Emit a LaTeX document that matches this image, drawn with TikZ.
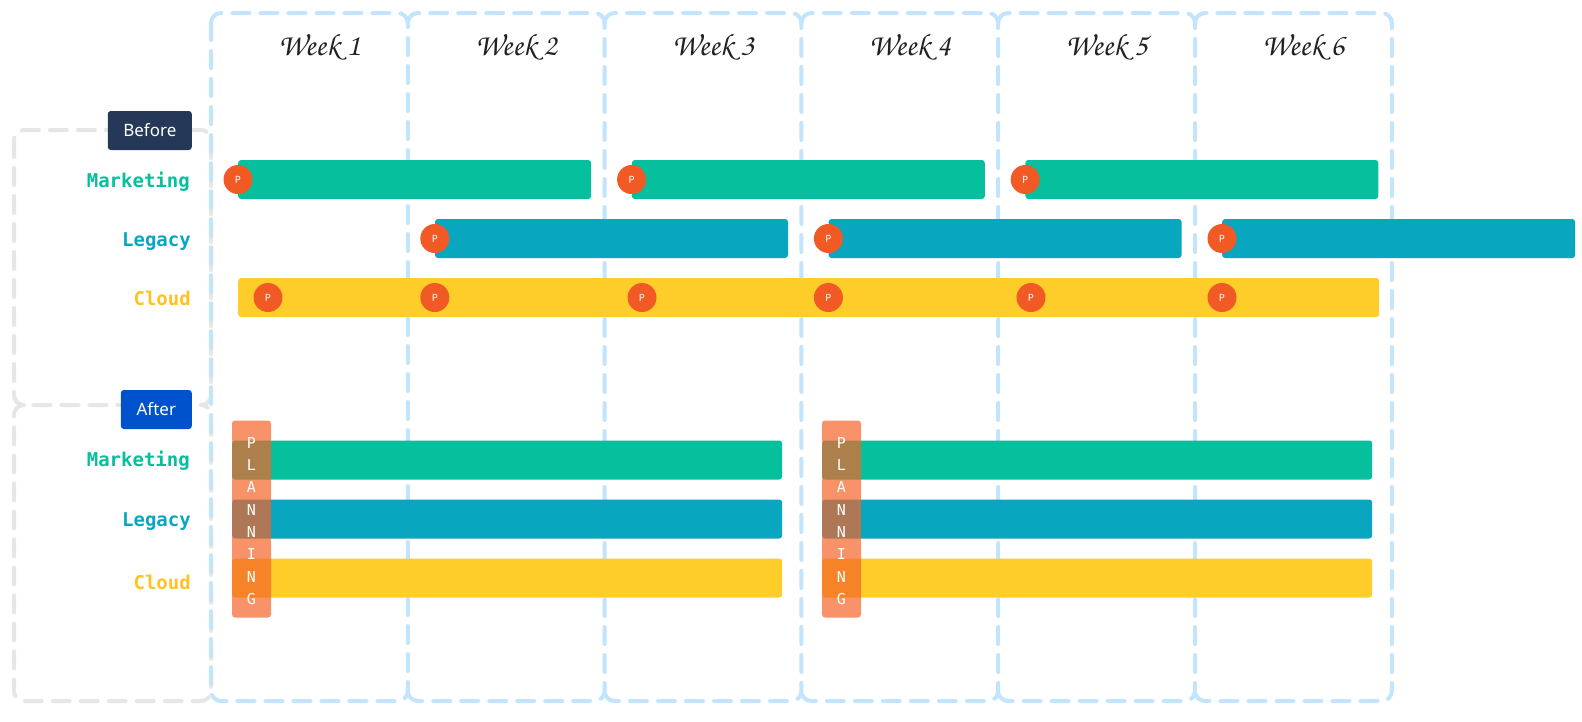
\documentclass[tikz,border=0pt]{standalone}
\usepackage[T1]{fontenc}
\usepackage{fontspec}
\setmainfont{Noto Sans}
\setmonofont{DejaVu Sans Mono}
\usepackage{color}
\usepackage{tikz}
\usetikzlibrary{positioning,calc}
\definecolor{weekblue}{HTML}{C2E4FD}
\definecolor{groupgray}{HTML}{E6E6E6}
\definecolor{navy}{HTML}{253858}
\definecolor{afterblue}{HTML}{0052CC}
\definecolor{mkt}{HTML}{06BF9C}
\definecolor{lgc}{HTML}{09A6BF}
\definecolor{cld}{HTML}{FFCD2A}
\definecolor{cldtext}{HTML}{FFC21F}
\definecolor{pinorange}{HTML}{F15A24}
\definecolor{planorange}{HTML}{F56428}
\newcommand{\handfont}{\fontencoding{T1}\fontfamily{pzc}\fontseries{mb}\fontshape{it}\selectfont}
\tikzset{
    x=1pt,y=-1pt,
    colline/.style ={draw=weekblue, line width=4pt, dash pattern=on 17pt off 11pt, line cap=round,
        rounded corners=10pt},
    groupline/.style ={draw=groupgray, line width=4pt, dash pattern=on 17pt off 11pt, line cap=round,
        rounded corners=10pt},
    tag/.style = {rectangle, rounded corners=3pt, text=white, minimum height=39pt, inner sep=0,
        anchor=east, font=\fontsize{17}{20}\selectfont},
    row/.style = {anchor=mid east, inner sep=0, font=\ttfamily\bfseries\fontsize{19}{22}\selectfont},
    weeklabel/.style = {font=\handfont\fontsize{31}{34}\selectfont, text=black!87},
    bar/.style = {rectangle, rounded corners=3pt, minimum height=39pt, inner sep=0, anchor=west},
    pin/.style = {circle, fill=pinorange, text=white, minimum size=29pt, inner sep=0,
        font=\bfseries\fontsize{10}{10}\selectfont},
    plan/.style = {rectangle, rounded corners=3pt, fill=planorange, fill opacity=0.7, text opacity=1,
        text=white, minimum width=39pt, minimum height=197pt, inner sep=0, align=center,
        font=\ttfamily\fontsize{15}{22.3}\selectfont}
}
\begin{document}
\begin{tikzpicture}
    \useasboundingbox (0,0) rectangle (1582,721);
    % before / after groups
    \draw[groupline] (14,130) rectangle (211,405);
    \draw[groupline] (24,405) -- (14,405) -- (14,701) -- (211,701) -- (211,405) -- (201,405);

    % week columns
    \draw[colline] (211,13) rectangle (407.8,701);
    \draw[colline] (407.8,23) -- (407.8,13) -- (604.6,13) -- (604.6,701) -- (407.8,701) -- (407.8,691);
    \draw[colline] (604.6,23) -- (604.6,13) -- (801.4,13) -- (801.4,701) -- (604.6,701) -- (604.6,691);
    \draw[colline] (801.4,23) -- (801.4,13) -- (998.2,13) -- (998.2,701) -- (801.4,701) -- (801.4,691);
    \draw[colline] (998.2,23) -- (998.2,13) -- (1195,13) -- (1195,701) -- (998.2,701) -- (998.2,691);
    \draw[colline] (1195,23) -- (1195,13) -- (1391.8,13) -- (1391.8,701) -- (1195,701) -- (1195,691);
    \node[weeklabel] (t1) at (319.4,47) {Week 1};
    \node[weeklabel] (t2) at (516.2,47) {Week 2};
    \node[weeklabel] (t3) at (713,47) {Week 3};
    \node[weeklabel] (t4) at (909.8,47) {Week 4};
    \node[weeklabel] (t5) at (1106.6,47) {Week 5};
    \node[weeklabel] (t6) at (1303.4,47) {Week 6};

    \node[tag, fill=navy, minimum width=84pt] (tb) at (192,130.5) {Before};
    \node[tag, fill=afterblue, minimum width=71pt] (ta) at (192,409.5) {After};

    \node[row, mkt] (rm1) at (190,185) {Marketing};
    \node[row, lgc] (rl1) at (191,244) {Legacy};
    \node[row, cldtext] (rc1) at (191,303) {Cloud};
    \node[row, mkt] (rm2) at (190,464) {Marketing};
    \node[row, lgc] (rl2) at (191,524) {Legacy};
    \node[row, cldtext] (rc2) at (191,587) {Cloud};

    % before
    \node[bar, fill=mkt, minimum width=353pt] (mkA) at (238,179.5) {};
    \node[bar, fill=mkt, minimum width=353pt] (mkB) at (631.6,179.5) {};
    \node[bar, fill=mkt, minimum width=353pt] (mkC) at (1025.2,179.5) {};
    \node[bar, fill=lgc, minimum width=353pt] (lgA) at (434.8,238.5) {};
    \node[bar, fill=lgc, minimum width=353pt] (lgB) at (828.4,238.5) {};
    \node[bar, fill=lgc, minimum width=353pt] (lgC) at (1222,238.5) {};
    \node[bar, fill=cld, minimum width=1141pt] (cl) at (238,297.5) {};

    \node[pin] (p1) at (mkA.west) {P};
    \node[pin] (p2) at (mkB.west) {P};
    \node[pin] (p3) at (mkC.west) {P};
    \node[pin] (p4) at (lgA.west) {P};
    \node[pin] (p5) at (lgB.west) {P};
    \node[pin] (p6) at (lgC.west) {P};
    \node[pin] (p7) at (268,297.5) {P};
    \node[pin] (p8) at (434.8,297.5) {P};
    \node[pin] (p9) at (642,297.5) {P};
    \node[pin] (p10) at (828.4,297.5) {P};
    \node[pin] (p11) at (1031,297.5) {P};
    \node[pin] (p12) at (1222,297.5) {P};

    % after
    \node[bar, fill=mkt, minimum width=550pt] (amk1) at (232,460) {};
    \node[bar, fill=lgc, minimum width=550pt] (alg1) at (232,519) {};
    \node[bar, fill=cld, minimum width=550pt] (acl1) at (232,578) {};
    \node[bar, fill=mkt, minimum width=550pt] (amk2) at (822,460) {};
    \node[bar, fill=lgc, minimum width=550pt] (alg2) at (822,519) {};
    \node[bar, fill=cld, minimum width=550pt] (acl2) at (822,578) {};

    \node[plan] (pl1) at (251.5,519) {\rule{0pt}{15pt}P\\L\\A\\N\\N\\I\\N\\G};
    \node[plan] (pl2) at (841.5,519) {\rule{0pt}{15pt}P\\L\\A\\N\\N\\I\\N\\G};
\end{tikzpicture}
\end{document}
